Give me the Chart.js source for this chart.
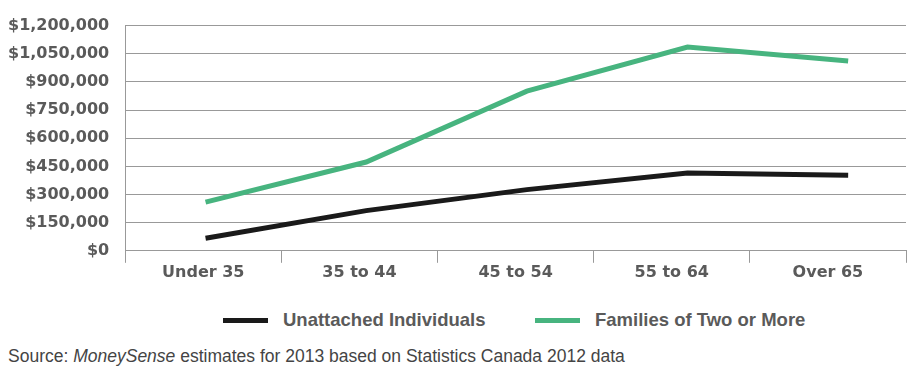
<!DOCTYPE html>
<html>
<head>
<meta charset="utf-8">
<script src="https://cdn.jsdelivr.net/npm/chart.js@4"></script>
<style>
  body { margin: 0; background: #fff; }
  #wrap { position: relative; width: 916px; height: 282px; }
  .key { position: absolute; top: 309px; height: 22px; display: flex; align-items: center; font: bold 18.5px "Liberation Sans", Arial, sans-serif; color: #5a5a5a; white-space: nowrap; }
  .key span { display: inline-block; width: 45px; height: 5px; margin-right: 15px; }
  #source { position: absolute; left: 8px; top: 346px; font: 17.5px "Liberation Sans", Arial, sans-serif; color: #444; white-space: nowrap; }
</style>
</head>
<body>
<div id="wrap"><canvas id="netWorth"></canvas></div>
<div id="legend"></div>
<div id="source">Source: <i>MoneySense</i> estimates for 2013 based on Statistics Canada 2012 data</div>
<script>
const ageGroups = ['Under 35', '35 to 44', '45 to 54', '55 to 64', 'Over 65'];
const unattached = [67000, 214000, 326000, 415000, 403000];
const families = [259000, 473000, 851000, 1086000, 1011000];
const yTicks = [0, 150000, 300000, 450000, 600000, 750000, 900000, 1050000, 1200000];

const gray = '#5a5a5a';
const tickFont = { family: 'DejaVu Sans', size: 16, weight: 'bold' };

function toPoints(arr) {
  return arr.map((v, i) => ({ x: i, y: v }));
}

const chart = new Chart(document.getElementById('netWorth'), {
  type: 'line',
  data: {
    labels: ageGroups,
    datasets: [
      {
        label: 'Unattached Individuals',
        data: toPoints(unattached),
        xAxisID: 'xLine',
        borderColor: '#1a1a1a',
        backgroundColor: '#1a1a1a',
        borderWidth: 5,
        pointRadius: 0,
        tension: 0
      },
      {
        label: 'Families of Two or More',
        data: toPoints(families),
        xAxisID: 'xLine',
        borderColor: '#47b47f',
        backgroundColor: '#47b47f',
        borderWidth: 5,
        pointRadius: 0,
        tension: 0
      }
    ]
  },
  options: {
    responsive: true,
    maintainAspectRatio: false,
    animation: false,
    layout: { padding: { left: -8, right: 10, top: 6, bottom: 0 } },
    plugins: {
      tooltip: { enabled: false },
      legend: { display: false }
    },
    scales: {
      x: {
        type: 'category',
        offset: true,
        grid: { offset: true, drawOnChartArea: false, color: '#999', tickLength: 12 },
        border: { color: '#999' },
        ticks: { color: gray, font: tickFont, padding: 0 }
      },
      xLine: {
        type: 'linear',
        display: false,
        min: -0.5,
        max: 4.36
      },
      y: {
        min: 0,
        max: 1200000,
        afterBuildTicks: axis => { axis.ticks = yTicks.map(v => ({ value: v })); },
        grid: { color: '#999', drawTicks: false },
        border: { color: '#999' },
        ticks: {
          color: gray,
          font: tickFont,
          padding: 16,
          autoSkip: false,
          callback: v => '$' + v.toLocaleString('en-US')
        }
      }
    }
  }
});

// legend as plain html, laid out like the original
const legendLeft = [223, 535];
chart.data.datasets.forEach((ds, i) => {
  const item = document.createElement('div');
  item.className = 'key';
  item.style.left = legendLeft[i] + 'px';
  item.innerHTML = '<span style="background:' + ds.borderColor + '"></span>' + ds.label;
  document.getElementById('legend').appendChild(item);
});
</script>
</body>
</html>
